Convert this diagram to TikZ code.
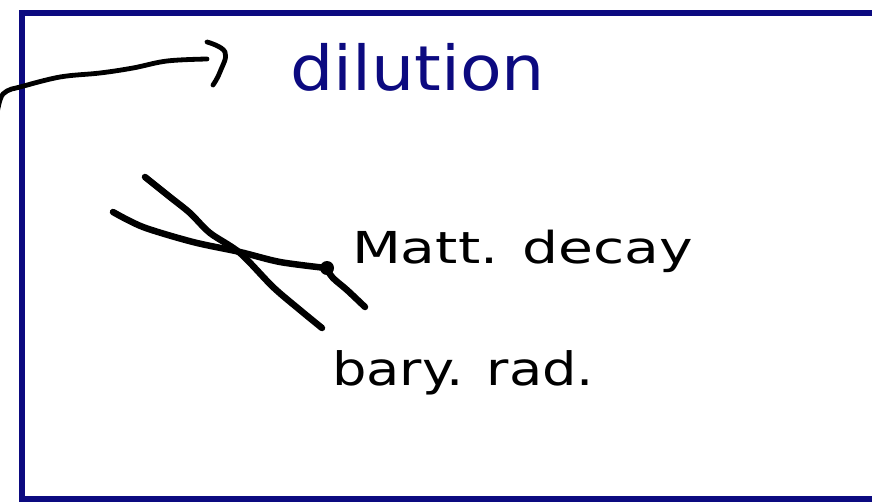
\documentclass[tikz,border=0pt]{standalone}
\usepackage{fontspec}
\setmainfont{DejaVu Sans}
\definecolor{navy}{RGB}{12,10,128}
\tikzset{
  ink/.style={line width=6.5pt, line cap=round, line join=round, black},
  pen/.style={line width=4.8pt, line cap=round, line join=round, black},
  frame/.style={line width=6pt, navy},
  hand/.style={anchor=base west, inner sep=0pt, outer sep=0pt}
}
\begin{document}
\begin{tikzpicture}[x=1pt,y=-1pt]
\useasboundingbox (0,0) rectangle (872,501);
% frame
\draw[frame] (22,12.5) rectangle (880,499);
% labels
\node[hand, text=navy] (dil) at (290,90) {\scalebox{1.10}[1]{\fontsize{62}{66}\selectfont dilution}};
\node[hand] (matt) at (352,263) {\scalebox{1.29}[1]{\fontsize{44}{48}\selectfont Matt. decay}};
\node[hand] (bary) at (332,385) {\scalebox{1.18}[1]{\fontsize{46}{50}\selectfont bary. rad.}};
% curved arrow toward dilution
\coordinate (tip) at (207,59);
\draw[pen] plot[smooth, tension=0.6] coordinates {(-6,130) (0,100) (7,91) (20,87) (60,77) (100,73) (133,68) (167,61) (tip)};
\draw[pen] plot[smooth, tension=0.7] coordinates {(207,42) (225,52) (220,72) (213,85)};
% crossing lines
\draw[ink] plot[smooth, tension=0.5] coordinates {(145,177) (170,197) (190,213) (210,233) (240,253) (273,287) (300,310) (322,328)};
\draw[ink] plot[smooth, tension=0.5] coordinates {(113,212) (143,227) (193,242) (240,252) (280,262) (326,268)};
\draw[ink] plot[smooth, tension=0.5] coordinates {(326,268) (333,278) (347,290) (365,307)};
\fill[black] (327,268) circle (7);
\end{tikzpicture}
\end{document}
